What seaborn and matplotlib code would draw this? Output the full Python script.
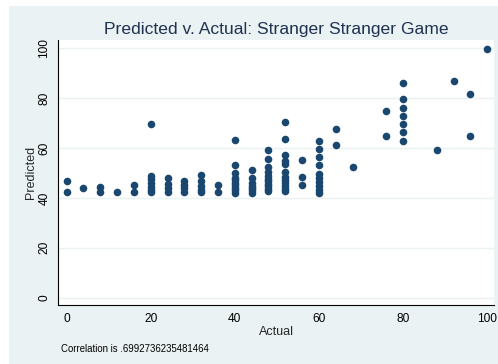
import matplotlib
matplotlib.use("Agg")
import matplotlib.pyplot as plt
from matplotlib.patches import Rectangle
import seaborn as sns
import pandas as pd

# Actual outcome (x) and model prediction (y), one entry per plotted observation
actual = (
    [0, 0]
    + [4]
    + [8, 8]
    + [12]
    + [16, 16]
    + [20] * 7
    + [24] * 4
    + [28] * 4
    + [32] * 5
    + [36] * 2
    + [40] * 10
    + [44] * 7
    + [48] * 11
    + [52] * 12
    + [56] * 3
    + [60] * 10
    + [64] * 2
    + [68]
    + [76] * 2
    + [80] * 7
    + [88]
    + [92]
    + [96] * 2
    + [100]
)
predicted = (
    [46.8, 42.3]
    + [43.9]
    + [44.2, 42.5]
    + [42.4]
    + [45.2, 42.3]
    + [69.6, 48.9, 47.5, 46.0, 44.5, 43.3, 42.3]
    + [47.9, 45.5, 44.0, 42.5]
    + [46.8, 45.2, 43.8, 42.5]
    + [49.3, 46.8, 44.8, 43.3, 42.3]
    + [45.3, 42.4]
    + [63.2, 53.1, 50.1, 48.1, 47.0, 46.1, 45.0, 44.1, 43.0, 42.1]
    + [51.1, 48.1, 46.0, 44.8, 44.0, 43.0, 42.0]
    + [59.1, 55.7, 52.5, 50.5, 48.8, 47.5, 46.8, 45.5, 44.8, 43.5, 42.8]
    + [70.3, 63.7, 57.1, 55.0, 53.7, 50.4, 48.5, 47.1, 45.8, 44.8, 43.5, 42.8]
    + [55.1, 48.3, 45.1]
    + [62.9, 59.7, 56.4, 53.1, 49.7, 48.0, 46.4, 44.8, 43.1, 42.0]
    + [67.6, 61.1]
    + [52.3]
    + [74.9, 64.9]
    + [86.1, 79.5, 76.1, 72.8, 69.6, 66.3, 62.9]
    + [59.1]
    + [86.8]
    + [81.5, 64.9]
    + [99.5]
)
x_ticks = [0, 20, 40, 60, 80, 100]
y_ticks = [0, 20, 40, 60, 80, 100]
title = "Predicted v. Actual: Stranger Stranger Game"
note = "Correlation is .6992736235481464"

df = pd.DataFrame({"Actual": actual, "Predicted": predicted})

BG = "#EAF2F3"
NAVY = "#1A476F"
TITLE_C = "#1E3150"

sns.set_style("white")
plt.rcParams["font.family"] = ["Liberation Sans", "DejaVu Sans"]

fig = plt.figure(figsize=(4.98, 3.64), dpi=100, facecolor="white")
fig.patches.append(Rectangle((9 / 498, 0), 1, (364 - 6) / 364,
                             transform=fig.transFigure, facecolor=BG,
                             edgecolor="none", zorder=-10))

ax = fig.add_axes([58.3 / 498, 59 / 364, 436 / 498, 265 / 364])
ax.set_facecolor("white")

sns.scatterplot(data=df, x="Actual", y="Predicted", ax=ax, color=NAVY,
                s=30, linewidth=0, zorder=3, clip_on=False)

ax.set_xlim(-1.98, 101.7)
ax.set_ylim(-2.9, 103.3)
ax.set_xticks(x_ticks)
ax.set_yticks(y_ticks)
ax.set_yticklabels([str(v) for v in y_ticks], rotation=90, va="center")
ax.tick_params(axis="both", direction="out", length=3.6, width=0.8,
               colors="black", labelsize=8.6, pad=2)
ax.grid(axis="y", color=BG, linewidth=1.0, zorder=0)
ax.grid(axis="x", visible=False)

for side in ("top", "right"):
    ax.spines[side].set_visible(False)
for side in ("left", "bottom"):
    ax.spines[side].set_color("black")
    ax.spines[side].set_linewidth(0.8)

ax.set_xlabel("Actual", fontsize=9, labelpad=1)
ax.set_ylabel("Predicted", fontsize=9, labelpad=1)
ax.set_title(title, fontsize=12.6, color=TITLE_C, pad=4)

fig.text(61 / 498, 1 - 349 / 364, note, fontsize=6.9, va="center",
         ha="left", color="black")

fig.savefig("out.png", dpi=100, facecolor=fig.get_facecolor())
